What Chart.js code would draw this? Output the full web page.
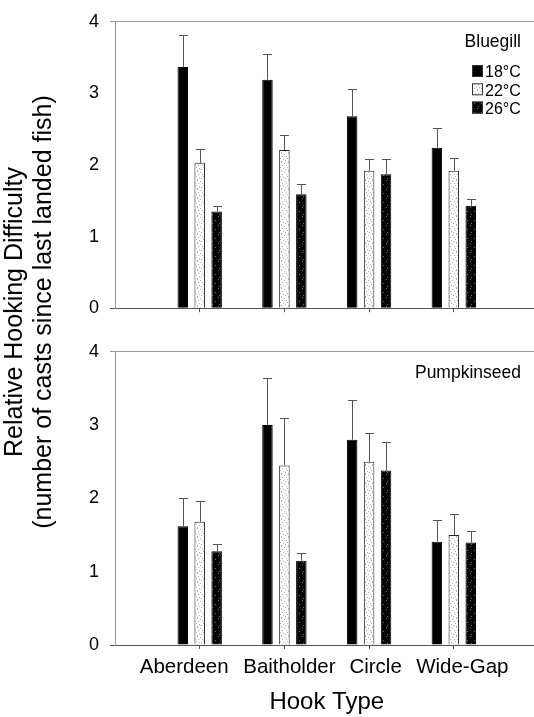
<!DOCTYPE html>
<html>
<head>
<meta charset="utf-8">
<script src="https://cdn.jsdelivr.net/npm/chart.js@4"></script>
<style>
  html, body { margin: 0; padding: 0; background: #fff; overflow: hidden; }
  #stage { position: relative; width: 534px; height: 717px; overflow: hidden; }
  .panel { position: absolute; left: 0; }
  #ytitle {
    position: absolute; left: 28px; top: 312px; width: 520px;
    transform: translate(-50%, -50%) rotate(-90deg);
    text-align: center; white-space: nowrap; color: #000;
    font: 25px/29px "Liberation Sans", Arial, Helvetica, sans-serif;
  }
</style>
</head>
<body>
<div id="stage">
  <canvas id="bluegillChart" class="panel" width="540" height="330" style="top:0"></canvas>
  <canvas id="pumpkinChart" class="panel" width="540" height="387" style="top:330px"></canvas>
  <div id="ytitle">Relative Hooking Difficulty<br>(number of casts since last landed fish)</div>
</div>
<script>
// --- data ---
const hookTypes = ['Aberdeen', 'Baitholder', 'Circle', 'Wide-Gap'];
const temps = ['18°C', '22°C', '26°C'];
const yTicks = [0, 1, 2, 3, 4];

// Bluegill: mean and standard error (upper whisker only)
const bluegill18 = [3.37, 3.19, 2.68, 2.24];
const bluegill22 = [2.03, 2.21, 1.92, 1.92];
const bluegill26 = [1.35, 1.59, 1.87, 1.43];
const bluegill18Err = [0.45, 0.36, 0.38, 0.27];
const bluegill22Err = [0.19, 0.21, 0.17, 0.18];
const bluegill26Err = [0.08, 0.14, 0.21, 0.10];

// Pumpkinseed
const pumpkin18 = [1.62, 3.0, 2.8, 1.41];
const pumpkin22 = [1.68, 2.45, 2.5, 1.5];
const pumpkin26 = [1.28, 1.15, 2.38, 1.4];
const pumpkin18Err = [0.38, 0.64, 0.54, 0.29];
const pumpkin22Err = [0.28, 0.65, 0.39, 0.29];
const pumpkin26Err = [0.1, 0.1, 0.39, 0.15];

const FONT = '"Liberation Sans", Arial, Helvetica, sans-serif';

// speckled fills like the scanned original
function speckle(bg, dot, dots) {
  const c = document.createElement('canvas');
  c.width = 7;
  c.height = 9;
  const g = c.getContext('2d');
  g.fillStyle = bg;
  g.fillRect(0, 0, 7, 9);
  g.fillStyle = dot;
  dots.forEach(([x, y]) => g.fillRect(x, y, 1, 1));
  return g.createPattern(c, 'repeat');
}
const FILLS = [
  '#000',
  speckle('#fff', '#b4b4b4', [[1, 0], [4, 1], [6, 3], [2, 3], [0, 5], [3, 6], [5, 7], [1, 8]]),
  speckle('#050505', '#6e6e6e', [[1, 0], [5, 4], [2, 7]]),
];

// x label nudges (the original has hand-placed labels)
const labelNudge = [-15.5, 5, 6.5, 8.5];

const panelPlugin = {
  id: 'panelDecor',
  afterDatasetsDraw(chart) {
    const { ctx } = chart;
    const yScale = chart.scales.y;
    ctx.save();
    ctx.strokeStyle = '#555';
    ctx.lineWidth = 1;
    chart.data.datasets.forEach((ds, di) => {
      chart.getDatasetMeta(di).data.forEach((bar, i) => {
        const v = ds.data[i];
        const e = ds.errors[i];
        if (v == null || e == null) return;
        const x = Math.round(bar.x) + 0.5;
        const yTop = Math.round(yScale.getPixelForValue(v + e)) + 0.5;
        ctx.beginPath();
        ctx.moveTo(x, bar.y);
        ctx.lineTo(x, yTop);
        ctx.moveTo(x - 4.5, yTop);
        ctx.lineTo(x + 4.5, yTop);
        ctx.stroke();
      });
    });
    ctx.restore();
  },
  afterDraw(chart, args, opts) {
    const { ctx } = chart;
    ctx.save();
    ctx.fillStyle = '#000';
    ctx.textBaseline = 'alphabetic';
    // panel name
    ctx.font = '17.5px ' + FONT;
    ctx.textAlign = 'right';
    ctx.fillText(opts.name, 521, opts.nameY);
    // legend
    if (opts.legend) {
      ctx.font = '16px ' + FONT;
      ctx.textAlign = 'left';
      temps.forEach((t, i) => {
        const top = 65 + i * 18.3;
        ctx.fillStyle = FILLS[i];
        ctx.fillRect(472, top, 11, 12);
        ctx.strokeStyle = '#333';
        ctx.strokeRect(472.5, top + 0.5, 10, 11);
        ctx.fillStyle = '#000';
        ctx.fillText(t, 485, top + 12.3);
      });
    }
    // category labels
    if (opts.xLabels) {
      const xScale = chart.scales.x;
      ctx.font = '20.5px ' + FONT;
      ctx.textAlign = 'center';
      hookTypes.forEach((h, i) => {
        ctx.fillText(h, xScale.getPixelForValue(i + 1) + labelNudge[i], xScale.top + 28);
      });
    }
    ctx.restore();
  },
};

function makePanel(id, means, errs, opts) {
  const datasets = temps.map((t, i) => ({
    label: t,
    data: [null, ...means[i], null],
    errors: [null, ...errs[i], null],
    backgroundColor: FILLS[i],
    borderColor: i === 1 ? '#222' : '#000',
    borderWidth: 1,
    categoryPercentage: 0.6,
    barPercentage: 0.62,
  }));
  return new Chart(document.getElementById(id), {
    type: 'bar',
    data: { labels: ['', ...hookTypes, ''], datasets },
    plugins: [panelPlugin],
    options: {
      responsive: false,
      animation: false,
      layout: { padding: { top: opts.padTop, right: 1.5, left: 0, bottom: 0 } },
      plugins: {
        legend: { display: false },
        tooltip: { enabled: false },
        panelDecor: opts,
      },
      scales: {
        x: {
          offset: false,
          grid: {
            offset: false,
            drawOnChartArea: false,
            tickLength: 4,
            color: (c) => (c.index === 0 || c.index === 5 ? 'rgba(0,0,0,0)' : '#555'),
          },
          border: { color: '#555' },
          ticks: { display: false },
          title: {
            display: !!opts.xLabels,
            text: 'Hook Type',
            color: '#000',
            font: { family: FONT, size: 24, lineHeight: 1.15 },
            padding: { top: 0, bottom: 1 },
          },
          afterFit: (s) => { s.height = opts.xHeight; },
        },
        y: {
          min: 0,
          max: 4,
          afterBuildTicks: (s) => { s.ticks = yTicks.map((v) => ({ value: v })); },
          ticks: { padding: 11, color: '#000', font: { family: FONT, size: 18 } },
          grid: {
            tickLength: 5,
            color: (c) => (c.tick.value === 4 ? '#999' : c.tick.value === 0 ? '#555' : 'rgba(0,0,0,0)'),
          },
          border: { color: '#999' },
          afterFit: (s) => { s.width = 115; },
        },
      },
    },
  });
}

makePanel('bluegillChart',
  [bluegill18, bluegill22, bluegill26],
  [bluegill18Err, bluegill22Err, bluegill26Err],
  { name: 'Bluegill', nameY: 46.5, legend: true, xLabels: false, padTop: 16, xHeight: 18 });

makePanel('pumpkinChart',
  [pumpkin18, pumpkin22, pumpkin26],
  [pumpkin18Err, pumpkin22Err, pumpkin26Err],
  { name: 'Pumpkinseed', nameY: 47.5, legend: false, xLabels: true, padTop: 20, xHeight: 72 });
</script>
</body>
</html>
